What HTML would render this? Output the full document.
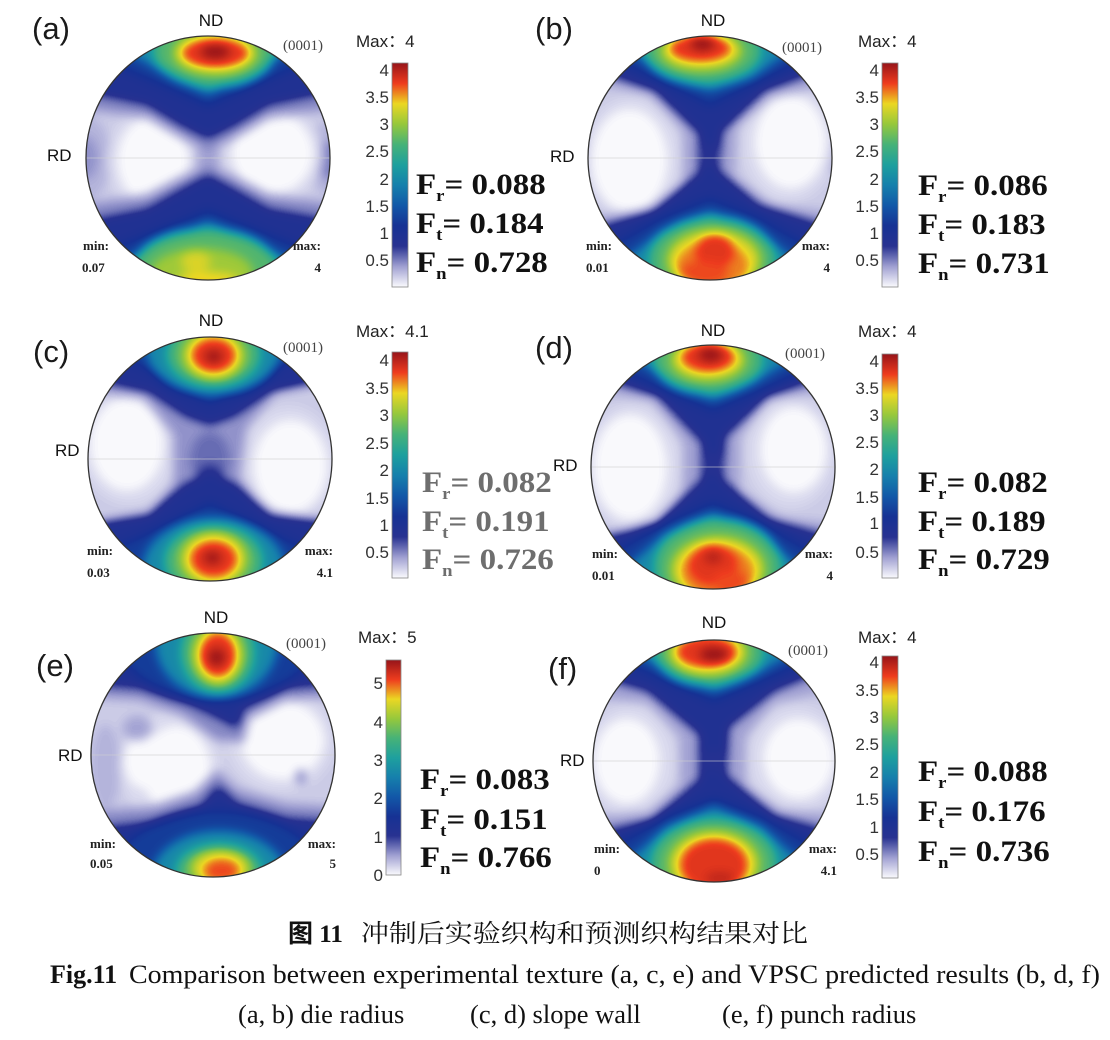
<!DOCTYPE html>
<html><head><meta charset="utf-8"><style>
html,body{margin:0;padding:0;background:#fff;}
svg{display:block;}
.sans{font-family:"Liberation Sans",Arial,sans-serif;}
.serif{font-family:"Liberation Serif","Times New Roman",serif;}
</style></head><body>
<svg width="1110" height="1040" viewBox="0 0 1110 1040" xmlns="http://www.w3.org/2000/svg">
<defs>
<filter id="cm" x="-20%" y="-20%" width="140%" height="140%" color-interpolation-filters="sRGB">
<feGaussianBlur stdDeviation="5"/>
<feComponentTransfer>
<feFuncR type="table" tableValues="0.98 0.627 0.157 0.086 0.071 0.086 0.118 0.275 0.588 0.922 0.933 0.588"/>
<feFuncG type="table" tableValues="0.98 0.627 0.196 0.196 0.345 0.502 0.627 0.698 0.784 0.843 0.235 0.078"/>
<feFuncB type="table" tableValues="0.992 0.824 0.569 0.58 0.659 0.675 0.62 0.471 0.235 0.137 0.118 0.098"/>
</feComponentTransfer>
</filter>
<linearGradient id="cb" x1="0" y1="0" x2="0" y2="1">
<stop offset="0" stop-color="rgb(150,20,25)"/>
<stop offset="0.091" stop-color="rgb(238,60,30)"/>
<stop offset="0.182" stop-color="rgb(235,215,35)"/>
<stop offset="0.273" stop-color="rgb(150,200,60)"/>
<stop offset="0.364" stop-color="rgb(70,178,120)"/>
<stop offset="0.455" stop-color="rgb(30,160,158)"/>
<stop offset="0.545" stop-color="rgb(22,128,172)"/>
<stop offset="0.636" stop-color="rgb(18,88,168)"/>
<stop offset="0.727" stop-color="rgb(22,50,148)"/>
<stop offset="0.818" stop-color="rgb(40,50,145)"/>
<stop offset="0.909" stop-color="rgb(160,160,210)"/>
<stop offset="1" stop-color="rgb(250,250,253)"/>
</linearGradient>
<clipPath id="ca"><circle cx="208" cy="158" r="122"/></clipPath>
<clipPath id="cbp"><circle cx="710" cy="158" r="122"/></clipPath>
<clipPath id="cc"><circle cx="210" cy="459" r="122"/></clipPath>
<clipPath id="cd"><circle cx="713" cy="467" r="122"/></clipPath>
<clipPath id="ce"><circle cx="213" cy="755" r="122"/></clipPath>
<clipPath id="cf"><circle cx="714" cy="761" r="121"/></clipPath>
</defs>

<!-- Panel a -->
<g clip-path="url(#ca)"><g filter="url(#cm)"><g transform="translate(208,158) scale(122)">
<rect x="-1.4" y="-1.4" width="2.8" height="2.8" fill="#000"/>
<circle r="1.3" fill="#0c0c0c"/>
<ellipse cx="-1" cy="0" rx="0.2" ry="0.35" fill="#121212"/>
<ellipse cx="1" cy="0" rx="0.2" ry="0.3" fill="#121212"/>
<ellipse cx="-1" cy="0" rx="0.1" ry="0.18" fill="#1a1a1a"/>
<ellipse cx="1" cy="0.02" rx="0.12" ry="0.16" fill="#1e1e1e"/>
<ellipse cx="-0.45" cy="0.02" rx="0.38" ry="0.44" fill="#080808"/>
<ellipse cx="0.52" cy="-0.03" rx="0.42" ry="0.41" fill="#080808"/>
<ellipse cx="-0.45" cy="0.02" rx="0.29" ry="0.36" fill="#000"/>
<ellipse cx="0.53" cy="-0.04" rx="0.33" ry="0.33" fill="#000"/>
<ellipse cx="0" cy="0" rx="0.1" ry="0.16" fill="#161616"/>
<polygon points="-1.4,-0.45 -0.5,-0.33 -0.2,-0.15 0,-0.05 0.2,-0.15 0.5,-0.33 1.4,-0.45 1.4,-1.4 -1.4,-1.4" fill="#1c1c1c"/>
<polygon points="-1.4,0.44 -0.5,0.3 -0.2,0.14 0,0.05 0.2,0.14 0.5,0.3 1.4,0.42 1.4,1.4 -1.4,1.4" fill="#1c1c1c"/>
<polygon points="-1.4,-0.62 -0.5,-0.44 -0.22,-0.27 0,-0.16 0.22,-0.27 0.5,-0.44 1.4,-0.62 1.4,-1.4 -1.4,-1.4" fill="#383838"/>
<polygon points="-1.4,0.6 -0.5,0.42 -0.22,0.26 0,0.14 0.22,0.26 0.5,0.42 1.4,0.58 1.4,1.4 -1.4,1.4" fill="#383838"/>
<polygon points="-1,-0.85 -0.45,-0.62 0,-0.42 0.45,-0.62 1,-0.85 1,-1.4 -1,-1.4" fill="#4c4c4c"/>
<polygon points="-1,0.82 -0.45,0.6 0,0.42 0.45,0.6 1,0.82 1,1.4 -1,1.4" fill="#4c4c4c"/>
<polygon points="-0.8,-0.95 -0.4,-0.72 0,-0.52 0.4,-0.72 0.8,-0.95 0.8,-1.4 -0.8,-1.4" fill="#7a7a7a"/>
<polygon points="-0.85,0.92 -0.4,0.7 0,0.52 0.4,0.7 0.85,0.92 0.85,1.4 -0.85,1.4" fill="#7a7a7a"/>
<ellipse cx="0.05" cy="-0.88" rx="0.5" ry="0.3" fill="#a6a6a6"/>
<ellipse cx="0.06" cy="-0.86" rx="0.34" ry="0.17" fill="#cccccc"/>
<ellipse cx="0.06" cy="-0.86" rx="0.27" ry="0.12" fill="#ebebeb"/>
<ellipse cx="0.06" cy="-0.87" rx="0.12" ry="0.06" fill="#ffffff"/>
<ellipse cx="-0.02" cy="0.92" rx="0.6" ry="0.34" fill="#a6a6a6"/>
<ellipse cx="-0.05" cy="0.94" rx="0.42" ry="0.2" fill="#bcbcbc"/>
<ellipse cx="-0.1" cy="0.85" rx="0.12" ry="0.09" fill="#cccccc"/>
<ellipse cx="0" cy="1.0" rx="0.25" ry="0.06" fill="#d4d4d4"/>
</g></g></g>

<!-- Panel b -->
<g clip-path="url(#cbp)"><g filter="url(#cm)"><g transform="translate(710,158) scale(122)">
<rect x="-1.4" y="-1.4" width="2.8" height="2.8" fill="#000"/>
<circle r="1.3" fill="#0c0c0c"/>
<ellipse cx="-1" cy="0" rx="0.08" ry="0.15" fill="#161616"/>
<ellipse cx="1" cy="0" rx="0.08" ry="0.12" fill="#161616"/>
<ellipse cx="-0.64" cy="0.0" rx="0.4" ry="0.5" fill="#080808"/>
<ellipse cx="0.64" cy="-0.12" rx="0.38" ry="0.48" fill="#080808"/>
<ellipse cx="-0.66" cy="0.02" rx="0.31" ry="0.42" fill="#000"/>
<ellipse cx="0.66" cy="-0.13" rx="0.29" ry="0.38" fill="#000"/>
<polygon points="-1.4,-1.4 1.4,-1.4 1.4,-0.68 0.5,-0.5 0.22,-0.25 0.2,0.15 0.5,0.38 1.4,0.5 1.4,1.4 -1.4,1.4 -1.4,0.55 -0.5,0.42 -0.22,0.2 -0.22,-0.22 -0.5,-0.52 -1.4,-0.7" fill="#171717"/>
<polygon points="-1.4,-1.4 1.4,-1.4 1.4,-0.9 0.45,-0.55 0.1,-0.22 0.07,0.1 0.4,0.38 1.4,0.7 1.4,1.4 -1.4,1.4 -1.4,0.72 -0.45,0.42 -0.09,0.12 -0.09,-0.2 -0.45,-0.55 -1.4,-0.88" fill="#383838"/>
<ellipse cx="0" cy="-0.02" rx="0.07" ry="0.1" fill="#303030"/>
<polygon points="-1,-0.9 -0.4,-0.62 0,-0.42 0.4,-0.62 1,-0.9 1,-1.4 -1,-1.4" fill="#4c4c4c"/>
<polygon points="-0.75,-0.95 -0.35,-0.66 0,-0.55 0.35,-0.66 0.75,-0.95 0.75,-1.4 -0.75,-1.4" fill="#7a7a7a"/>
<ellipse cx="-0.06" cy="-0.88" rx="0.48" ry="0.27" fill="#a6a6a6"/>
<ellipse cx="-0.07" cy="-0.88" rx="0.33" ry="0.16" fill="#cccccc"/>
<ellipse cx="-0.08" cy="-0.9" rx="0.25" ry="0.11" fill="#ebebeb"/>
<ellipse cx="-0.06" cy="-0.94" rx="0.1" ry="0.06" fill="#ffffff"/>
<polygon points="-1,0.82 -0.4,0.48 0,0.32 0.4,0.48 1,0.82 1,1.4 -1,1.4" fill="#4c4c4c"/>
<polygon points="-0.85,0.95 -0.4,0.6 0,0.44 0.4,0.6 0.85,0.95 0.85,1.4 -0.85,1.4" fill="#7a7a7a"/>
<ellipse cx="0.02" cy="0.84" rx="0.52" ry="0.36" fill="#a6a6a6"/>
<ellipse cx="0.03" cy="0.84" rx="0.38" ry="0.25" fill="#cccccc"/>
<ellipse cx="0.02" cy="0.88" rx="0.3" ry="0.2" fill="#dedede"/>
<ellipse cx="0.04" cy="0.76" rx="0.16" ry="0.14" fill="#ebebeb"/>
<ellipse cx="-0.05" cy="0.94" rx="0.2" ry="0.1" fill="#e6e6e6"/>
</g></g></g>

<!-- Panel c -->
<g clip-path="url(#cc)"><g filter="url(#cm)"><g transform="translate(210,459) scale(122)">
<rect x="-1.4" y="-1.4" width="2.8" height="2.8" fill="#000"/>
<circle r="1.3" fill="#0c0c0c"/>
<ellipse cx="-0.66" cy="-0.1" rx="0.4" ry="0.47" fill="#080808"/>
<ellipse cx="0.64" cy="0.04" rx="0.4" ry="0.47" fill="#080808"/>
<ellipse cx="-0.68" cy="-0.12" rx="0.3" ry="0.38" fill="#000"/>
<ellipse cx="0.66" cy="0.06" rx="0.3" ry="0.38" fill="#000"/>
<polygon points="-1.4,-1.4 1.4,-1.4 1.4,-0.7 0.55,-0.55 0.3,-0.25 0.25,0.15 0.45,0.45 1.4,0.55 1.4,1.4 -1.4,1.4 -1.4,0.62 -0.5,0.45 -0.3,0.2 -0.3,-0.2 -0.55,-0.5 -1.4,-0.6" fill="#1a1a1a"/>
<ellipse cx="0" cy="0" rx="0.16" ry="0.22" fill="#222222"/>
<ellipse cx="0" cy="0.12" rx="0.1" ry="0.08" fill="#2e2e2e"/>
<polygon points="-1.4,-0.75 -0.5,-0.55 -0.2,-0.35 0,-0.28 0.2,-0.35 0.5,-0.55 1.4,-0.75 1.4,-1.4 -1.4,-1.4" fill="#383838"/>
<polygon points="-1.4,0.6 -0.5,0.45 -0.2,0.2 0,0.12 0.2,0.2 0.5,0.45 1.4,0.58 1.4,1.4 -1.4,1.4" fill="#383838"/>
<polygon points="-1,-0.95 -0.4,-0.68 0,-0.45 0.4,-0.68 1,-0.95 1,-1.4 -1,-1.4" fill="#4c4c4c"/>
<ellipse cx="0.03" cy="-0.9" rx="0.55" ry="0.38" fill="#7a7a7a"/>
<ellipse cx="0.03" cy="-0.86" rx="0.38" ry="0.27" fill="#a6a6a6"/>
<ellipse cx="0.03" cy="-0.85" rx="0.25" ry="0.2" fill="#cccccc"/>
<ellipse cx="0.03" cy="-0.85" rx="0.18" ry="0.14" fill="#ebebeb"/>
<ellipse cx="0.03" cy="-0.84" rx="0.07" ry="0.05" fill="#ffffff"/>
<polygon points="-1,0.82 -0.4,0.55 0,0.35 0.4,0.55 1,0.82 1,1.4 -1,1.4" fill="#4c4c4c"/>
<ellipse cx="0.03" cy="0.9" rx="0.58" ry="0.42" fill="#7a7a7a"/>
<ellipse cx="0.03" cy="0.84" rx="0.4" ry="0.3" fill="#a6a6a6"/>
<ellipse cx="0.03" cy="0.82" rx="0.27" ry="0.22" fill="#cccccc"/>
<ellipse cx="0.03" cy="0.82" rx="0.19" ry="0.15" fill="#ebebeb"/>
<ellipse cx="0.02" cy="0.81" rx="0.07" ry="0.05" fill="#ffffff"/>
</g></g></g>

<!-- Panel d -->
<g clip-path="url(#cd)"><g filter="url(#cm)"><g transform="translate(713,467) scale(122)">
<rect x="-1.4" y="-1.4" width="2.8" height="2.8" fill="#000"/>
<circle r="1.3" fill="#0c0c0c"/>
<ellipse cx="-0.66" cy="0" rx="0.4" ry="0.52" fill="#080808"/>
<ellipse cx="0.64" cy="-0.12" rx="0.36" ry="0.45" fill="#080808"/>
<ellipse cx="-0.68" cy="-0.0" rx="0.3" ry="0.43" fill="#000"/>
<ellipse cx="0.66" cy="-0.14" rx="0.27" ry="0.35" fill="#000"/>
<polygon points="-1.4,-1.4 1.4,-1.4 1.4,-0.7 0.45,-0.55 0.22,-0.25 0.22,0.2 0.55,0.42 1.4,0.5 1.4,1.4 -1.4,1.4 -1.4,0.58 -0.5,0.5 -0.25,0.2 -0.24,-0.2 -0.5,-0.55 -1.4,-0.68" fill="#171717"/>
<polygon points="-1.4,-1.4 1.4,-1.4 1.4,-0.9 0.45,-0.58 0.1,-0.25 0.08,0.1 0.45,0.42 1.4,0.7 1.4,1.4 -1.4,1.4 -1.4,0.72 -0.45,0.45 -0.09,0.1 -0.09,-0.2 -0.45,-0.58 -1.4,-0.88" fill="#383838"/>
<ellipse cx="0" cy="-0.02" rx="0.07" ry="0.1" fill="#303030"/>
<polygon points="-1,-0.9 -0.4,-0.62 0,-0.45 0.4,-0.62 1,-0.9 1,-1.4 -1,-1.4" fill="#4c4c4c"/>
<polygon points="-0.75,-0.95 -0.35,-0.7 0,-0.55 0.35,-0.7 0.75,-0.95 0.75,-1.4 -0.75,-1.4" fill="#7a7a7a"/>
<ellipse cx="-0.04" cy="-0.88" rx="0.45" ry="0.28" fill="#a6a6a6"/>
<ellipse cx="-0.04" cy="-0.88" rx="0.3" ry="0.17" fill="#cccccc"/>
<ellipse cx="-0.04" cy="-0.9" rx="0.22" ry="0.12" fill="#ebebeb"/>
<ellipse cx="-0.02" cy="-0.92" rx="0.1" ry="0.06" fill="#ffffff"/>
<polygon points="-1,0.8 -0.4,0.45 0,0.28 0.4,0.45 1,0.8 1,1.4 -1,1.4" fill="#4c4c4c"/>
<polygon points="-0.85,0.95 -0.4,0.55 0,0.38 0.4,0.55 0.85,0.95 0.85,1.4 -0.85,1.4" fill="#7a7a7a"/>
<ellipse cx="0.04" cy="0.82" rx="0.52" ry="0.4" fill="#a6a6a6"/>
<ellipse cx="0.04" cy="0.84" rx="0.38" ry="0.27" fill="#cccccc"/>
<ellipse cx="0.04" cy="0.86" rx="0.3" ry="0.22" fill="#dedede"/>
<ellipse cx="0" cy="0.8" rx="0.2" ry="0.17" fill="#ebebeb"/>
<ellipse cx="0.15" cy="0.95" rx="0.15" ry="0.1" fill="#e6e6e6"/>
<ellipse cx="0" cy="0.74" rx="0.07" ry="0.05" fill="#f8f8f8"/>
</g></g></g>

<!-- Panel e -->
<g clip-path="url(#ce)"><g filter="url(#cm)"><g transform="translate(213,755) scale(122)">
<rect x="-1.4" y="-1.4" width="2.8" height="2.8" fill="#000"/>
<circle r="1.3" fill="#0c0c0c"/>
<ellipse cx="-0.88" cy="0.1" rx="0.12" ry="0.35" fill="#121212"/>
<ellipse cx="-0.35" cy="0.1" rx="0.42" ry="0.45" fill="#080808"/>
<ellipse cx="0.55" cy="-0.12" rx="0.44" ry="0.42" fill="#080808"/>
<ellipse cx="-0.3" cy="0.12" rx="0.28" ry="0.36" fill="#000"/>
<ellipse cx="-0.55" cy="0.05" rx="0.18" ry="0.23" fill="#000"/>
<ellipse cx="0.57" cy="-0.12" rx="0.34" ry="0.32" fill="#000"/>
<ellipse cx="-0.62" cy="-0.22" rx="0.12" ry="0.1" fill="#161616"/>
<ellipse cx="0.72" cy="0.18" rx="0.04" ry="0.06" fill="#1e1e1e"/>
<polygon points="-1.4,-0.5 -0.6,-0.45 -0.25,-0.32 0.02,-0.12 0.25,-0.1 0.3,-0.3 0.6,-0.45 1.4,-0.5 1.4,-1.4 -1.4,-1.4" fill="#1c1c1c"/>
<polygon points="-1.4,-0.62 -0.6,-0.55 -0.2,-0.42 0.05,-0.3 0.2,-0.22 0.25,-0.38 0.6,-0.55 1.4,-0.62 1.4,-1.4 -1.4,-1.4" fill="#383838"/>
<ellipse cx="0.03" cy="-1.02" rx="0.85" ry="0.58" fill="#4c4c4c"/>
<ellipse cx="0.03" cy="-0.92" rx="0.5" ry="0.45" fill="#7a7a7a"/>
<ellipse cx="0.04" cy="-0.84" rx="0.3" ry="0.33" fill="#a6a6a6"/>
<ellipse cx="0.04" cy="-0.82" rx="0.2" ry="0.24" fill="#cccccc"/>
<ellipse cx="0.04" cy="-0.82" rx="0.15" ry="0.18" fill="#ebebeb"/>
<ellipse cx="0.03" cy="-0.8" rx="0.07" ry="0.07" fill="#ffffff"/>
<polygon points="-1.4,0.5 -0.5,0.42 -0.15,0.3 0.03,0.12 0.2,0.28 0.6,0.4 1.4,0.45 1.4,1.4 -1.4,1.4" fill="#1c1c1c"/>
<polygon points="-1.4,0.65 -0.5,0.55 -0.1,0.42 0.04,0.25 0.2,0.4 0.6,0.52 1.4,0.58 1.4,1.4 -1.4,1.4" fill="#383838"/>
<ellipse cx="0.03" cy="1.05" rx="0.9" ry="0.6" fill="#4c4c4c"/>
<ellipse cx="0.05" cy="1.0" rx="0.55" ry="0.38" fill="#7a7a7a"/>
<ellipse cx="0.05" cy="0.95" rx="0.35" ry="0.22" fill="#a6a6a6"/>
<ellipse cx="0.06" cy="0.93" rx="0.24" ry="0.15" fill="#cccccc"/>
<ellipse cx="0.07" cy="0.95" rx="0.15" ry="0.1" fill="#e6e6e6"/>
</g></g></g>

<!-- Panel f -->
<g clip-path="url(#cf)"><g filter="url(#cm)"><g transform="translate(714,761) scale(121)">
<rect x="-1.4" y="-1.4" width="2.8" height="2.8" fill="#000"/>
<circle r="1.3" fill="#0c0c0c"/>
<ellipse cx="-0.7" cy="0" rx="0.38" ry="0.46" fill="#080808"/>
<ellipse cx="0.68" cy="-0.02" rx="0.4" ry="0.44" fill="#080808"/>
<ellipse cx="-0.72" cy="0" rx="0.27" ry="0.35" fill="#000"/>
<ellipse cx="0.7" cy="-0.02" rx="0.29" ry="0.33" fill="#000"/>
<polygon points="-1.4,-1.4 1.4,-1.4 1.4,-0.68 0.5,-0.48 0.26,-0.2 0.26,0.2 0.55,0.4 1.4,0.48 1.4,1.4 -1.4,1.4 -1.4,0.5 -0.55,0.42 -0.28,0.2 -0.28,-0.2 -0.55,-0.48 -1.4,-0.58" fill="#171717"/>
<polygon points="-1.4,-1.4 1.4,-1.4 1.4,-0.95 0.5,-0.58 0.12,-0.28 0.1,0.12 0.5,0.45 1.4,0.7 1.4,1.4 -1.4,1.4 -1.4,0.7 -0.5,0.48 -0.12,0.15 -0.12,-0.22 -0.55,-0.58 -1.4,-0.82" fill="#383838"/>
<ellipse cx="0" cy="0" rx="0.07" ry="0.09" fill="#303030"/>
<polygon points="-1,-0.92 -0.4,-0.65 0,-0.48 0.4,-0.65 1,-0.92 1,-1.4 -1,-1.4" fill="#4c4c4c"/>
<polygon points="-0.75,-0.95 -0.35,-0.72 0,-0.58 0.35,-0.72 0.75,-0.95 0.75,-1.4 -0.75,-1.4" fill="#7a7a7a"/>
<ellipse cx="-0.04" cy="-0.9" rx="0.45" ry="0.28" fill="#a6a6a6"/>
<ellipse cx="-0.05" cy="-0.9" rx="0.32" ry="0.19" fill="#cccccc"/>
<ellipse cx="-0.06" cy="-0.9" rx="0.25" ry="0.13" fill="#ebebeb"/>
<ellipse cx="0" cy="-0.88" rx="0.12" ry="0.06" fill="#ffffff"/>
<polygon points="-1,0.8 -0.4,0.45 0,0.3 0.4,0.45 1,0.8 1,1.4 -1,1.4" fill="#4c4c4c"/>
<polygon points="-0.85,0.95 -0.4,0.55 0,0.38 0.4,0.55 0.85,0.95 0.85,1.4 -0.85,1.4" fill="#7a7a7a"/>
<ellipse cx="0" cy="0.85" rx="0.52" ry="0.38" fill="#a6a6a6"/>
<ellipse cx="0" cy="0.85" rx="0.37" ry="0.27" fill="#cccccc"/>
<ellipse cx="0" cy="0.86" rx="0.28" ry="0.22" fill="#ebebeb"/>
<ellipse cx="0.05" cy="0.97" rx="0.12" ry="0.05" fill="#f5f5f5"/>
</g></g></g>

<!-- circle outlines and faint RD axis lines -->
<g stroke="#d0d0d0" stroke-width="1" opacity="0.6">
<line x1="86" y1="158" x2="330" y2="158"/>
<line x1="588" y1="158" x2="832" y2="158"/>
<line x1="88" y1="459" x2="332" y2="459"/>
<line x1="591" y1="467" x2="835" y2="467"/>
<line x1="91" y1="755" x2="335" y2="755"/>
<line x1="593" y1="761" x2="835" y2="761"/>
</g>
<g fill="none" stroke="#333" stroke-width="1.3">
<circle cx="208" cy="158" r="122"/>
<circle cx="710" cy="158" r="122"/>
<circle cx="210" cy="459" r="122"/>
<circle cx="713" cy="467" r="122"/>
<circle cx="213" cy="755" r="122"/>
<circle cx="714" cy="761" r="121"/>
</g>

<!-- colorbars -->
<g stroke="#888" stroke-width="0.8" fill="url(#cb)">
<rect x="392" y="63" width="16" height="224"/>
<rect x="882" y="63" width="16" height="224"/>
<rect x="392" y="352" width="16" height="226"/>
<rect x="882" y="354" width="16" height="224"/>
<rect x="386" y="660" width="15" height="215"/>
<rect x="882" y="656" width="16" height="222"/>
</g>

<!-- tick labels -->
<g class="sans" font-size="17" fill="#333" text-anchor="end">
<text x="389" y="76">4</text><text x="389" y="103">3.5</text><text x="389" y="130">3</text><text x="389" y="157">2.5</text><text x="389" y="185">2</text><text x="389" y="212">1.5</text><text x="389" y="239">1</text><text x="389" y="266">0.5</text>
<text x="879" y="76">4</text><text x="879" y="103">3.5</text><text x="879" y="130">3</text><text x="879" y="157">2.5</text><text x="879" y="185">2</text><text x="879" y="212">1.5</text><text x="879" y="239">1</text><text x="879" y="266">0.5</text>
<text x="389" y="366">4</text><text x="389" y="394">3.5</text><text x="389" y="421">3</text><text x="389" y="449">2.5</text><text x="389" y="476">2</text><text x="389" y="504">1.5</text><text x="389" y="531">1</text><text x="389" y="558">0.5</text>
<text x="879" y="367">4</text><text x="879" y="394">3.5</text><text x="879" y="421">3</text><text x="879" y="448">2.5</text><text x="879" y="475">2</text><text x="879" y="503">1.5</text><text x="879" y="529">1</text><text x="879" y="558">0.5</text>
<text x="383" y="689">5</text><text x="383" y="728">4</text><text x="383" y="766">3</text><text x="383" y="804">2</text><text x="383" y="843">1</text><text x="383" y="881">0</text>
<text x="879" y="668">4</text><text x="879" y="696">3.5</text><text x="879" y="723">3</text><text x="879" y="750">2.5</text><text x="879" y="778">2</text><text x="879" y="805">1.5</text><text x="879" y="833">1</text><text x="879" y="860">0.5</text>
</g>

<!-- Max labels -->
<g font-family="'Liberation Sans','Noto Sans CJK SC',sans-serif" font-size="17" fill="#222">
<text x="356" y="47">Max：4</text>
<text x="858" y="47">Max：4</text>
<text x="356" y="337">Max：4.1</text>
<text x="858" y="337">Max：4</text>
<text x="358" y="643">Max：5</text>
<text x="858" y="643">Max：4</text>
</g>

<!-- panel letters -->
<g class="sans" font-size="31" fill="#1a1a1a">
<text x="32" y="39">(a)</text>
<text x="535" y="39">(b)</text>
<text x="33" y="362">(c)</text>
<text x="535" y="358">(d)</text>
<text x="36" y="676">(e)</text>
<text x="548" y="679">(f)</text>
</g>

<!-- ND / RD -->
<g class="sans" font-size="17" fill="#111">
<text x="211" y="26" text-anchor="middle">ND</text>
<text x="713" y="26" text-anchor="middle">ND</text>
<text x="211" y="326" text-anchor="middle">ND</text>
<text x="713" y="336" text-anchor="middle">ND</text>
<text x="216" y="623" text-anchor="middle">ND</text>
<text x="714" y="628" text-anchor="middle">ND</text>
<text x="47" y="161">RD</text>
<text x="550" y="162">RD</text>
<text x="55" y="456">RD</text>
<text x="553" y="471">RD</text>
<text x="58" y="761">RD</text>
<text x="560" y="766">RD</text>
</g>

<!-- (0001) -->
<g class="serif" font-size="15" fill="#444">
<text x="283" y="50">(0001)</text>
<text x="782" y="52">(0001)</text>
<text x="283" y="352">(0001)</text>
<text x="785" y="358">(0001)</text>
<text x="286" y="648">(0001)</text>
<text x="788" y="655">(0001)</text>
</g>

<!-- min / max -->
<g class="serif" font-size="13" font-weight="bold" fill="#222">
<text x="83" y="250">min:</text><text x="82" y="272">0.07</text>
<text x="321" y="250" text-anchor="end">max:</text><text x="321" y="272" text-anchor="end">4</text>
<text x="586" y="250">min:</text><text x="586" y="272">0.01</text>
<text x="830" y="250" text-anchor="end">max:</text><text x="830" y="272" text-anchor="end">4</text>
<text x="87" y="555">min:</text><text x="87" y="577">0.03</text>
<text x="333" y="555" text-anchor="end">max:</text><text x="333" y="577" text-anchor="end">4.1</text>
<text x="592" y="558">min:</text><text x="592" y="580">0.01</text>
<text x="833" y="558" text-anchor="end">max:</text><text x="833" y="580" text-anchor="end">4</text>
<text x="90" y="848">min:</text><text x="90" y="868">0.05</text>
<text x="336" y="848" text-anchor="end">max:</text><text x="336" y="868" text-anchor="end">5</text>
<text x="594" y="853">min:</text><text x="594" y="875">0</text>
<text x="837" y="853" text-anchor="end">max:</text><text x="837" y="875" text-anchor="end">4.1</text>
</g>

<!-- F values -->
<g class="serif" font-size="30" font-weight="bold" fill="#111">
<text transform="translate(416,194) scale(1.1,1)">F<tspan font-size="17" dy="7">r</tspan><tspan dy="-7">= 0.088</tspan></text>
<text transform="translate(416,233) scale(1.1,1)">F<tspan font-size="17" dy="7">t</tspan><tspan dy="-7">= 0.184</tspan></text>
<text transform="translate(416,272) scale(1.1,1)">F<tspan font-size="17" dy="7">n</tspan><tspan dy="-7">= 0.728</tspan></text>
<text transform="translate(918,195) scale(1.1,1)">F<tspan font-size="17" dy="7">r</tspan><tspan dy="-7">= 0.086</tspan></text>
<text transform="translate(918,234) scale(1.1,1)">F<tspan font-size="17" dy="7">t</tspan><tspan dy="-7">= 0.183</tspan></text>
<text transform="translate(918,273) scale(1.1,1)">F<tspan font-size="17" dy="7">n</tspan><tspan dy="-7">= 0.731</tspan></text>
<g fill="#6e6e6e">
<text transform="translate(422,492) scale(1.1,1)">F<tspan font-size="17" dy="7">r</tspan><tspan dy="-7">= 0.082</tspan></text>
<text transform="translate(422,531) scale(1.1,1)">F<tspan font-size="17" dy="7">t</tspan><tspan dy="-7">= 0.191</tspan></text>
<text transform="translate(422,569) scale(1.1,1)">F<tspan font-size="17" dy="7">n</tspan><tspan dy="-7">= 0.726</tspan></text>
</g>
<text transform="translate(918,492) scale(1.1,1)">F<tspan font-size="17" dy="7">r</tspan><tspan dy="-7">= 0.082</tspan></text>
<text transform="translate(918,531) scale(1.1,1)">F<tspan font-size="17" dy="7">t</tspan><tspan dy="-7">= 0.189</tspan></text>
<text transform="translate(918,569) scale(1.1,1)">F<tspan font-size="17" dy="7">n</tspan><tspan dy="-7">= 0.729</tspan></text>
<text transform="translate(420,789) scale(1.1,1)">F<tspan font-size="17" dy="7">r</tspan><tspan dy="-7">= 0.083</tspan></text>
<text transform="translate(420,829) scale(1.1,1)">F<tspan font-size="17" dy="7">t</tspan><tspan dy="-7">= 0.151</tspan></text>
<text transform="translate(420,867) scale(1.1,1)">F<tspan font-size="17" dy="7">n</tspan><tspan dy="-7">= 0.766</tspan></text>
<text transform="translate(918,781) scale(1.1,1)">F<tspan font-size="17" dy="7">r</tspan><tspan dy="-7">= 0.088</tspan></text>
<text transform="translate(918,821) scale(1.1,1)">F<tspan font-size="17" dy="7">t</tspan><tspan dy="-7">= 0.176</tspan></text>
<text transform="translate(918,861) scale(1.1,1)">F<tspan font-size="17" dy="7">n</tspan><tspan dy="-7">= 0.736</tspan></text>
</g>

<!-- caption -->
<g fill="#111">
<text x="288" y="942" font-size="25" font-weight="bold" font-family="'Liberation Serif','Noto Sans CJK SC',serif">图 11</text>
<text x="361" y="942" font-size="25" font-family="'Liberation Serif','Noto Serif CJK SC',serif" textLength="447" lengthAdjust="spacingAndGlyphs">冲制后实验织构和预测织构结果对比</text>
<text x="50" y="983" font-size="26" font-weight="bold" class="serif">Fig.11</text>
<text x="129" y="983" font-size="26" class="serif" textLength="971" lengthAdjust="spacingAndGlyphs">Comparison between experimental texture (a, c, e) and VPSC predicted results (b, d, f)</text>
<text x="238" y="1023" font-size="26.5" class="serif">(a, b) die radius</text>
<text x="470" y="1023" font-size="26.5" class="serif">(c, d) slope wall</text>
<text x="722" y="1023" font-size="26.5" class="serif">(e, f) punch radius</text>
</g>
</svg>
</body></html>
